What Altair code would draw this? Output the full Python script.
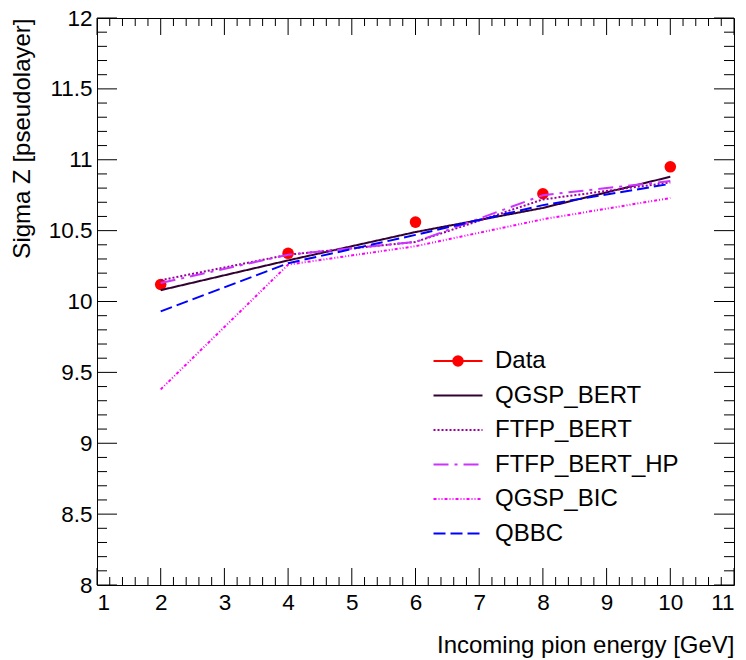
import altair as alt
import pandas as pd

# Beam energies and the measured / simulated shower width
energy = [2, 4, 6, 8, 10]
data_sigma = [10.12, 10.34, 10.56, 10.76, 10.95]
qgsp_bert = [10.08, 10.29, 10.49, 10.66, 10.88]
ftfp_bert = [10.15, 10.33, 10.42, 10.72, 10.84]
ftfp_bert_hp = [10.13, 10.33, 10.42, 10.75, 10.85]
qgsp_bic = [9.38, 10.26, 10.39, 10.58, 10.73]
qbbc = [9.93, 10.27, 10.47, 10.68, 10.83]

models = ["Data", "QGSP_BERT", "FTFP_BERT", "FTFP_BERT_HP", "QGSP_BIC", "QBBC"]
colors = ["#ff0000", "#330033", "#990099", "#cc33ff", "#ff00ff", "#0000ff"]
dashes = [[1, 0], [1, 0], [2, 2], [15, 6, 3, 6], [3, 2, 1, 2, 1, 2], [12, 5]]

# Axis tick positions
x_major = list(range(1, 12))
x_minor = [round(1 + 0.2 * i, 1) for i in range(51) if i % 5]
y_major = [8 + 0.5 * i for i in range(9)]
y_minor = [round(8 + 0.1 * i, 1) for i in range(41) if i % 5]

W, H = 637, 567
FONT = "Liberation Sans"
TICK_FS = 22.5
TEXT_FS = 24

sim = {
    "QGSP_BERT": qgsp_bert,
    "FTFP_BERT": ftfp_bert,
    "FTFP_BERT_HP": ftfp_bert_hp,
    "QGSP_BIC": qgsp_bic,
    "QBBC": qbbc,
}
lines_df = pd.DataFrame(
    [{"model": m, "energy": e, "sigma": s} for m, vals in sim.items() for e, s in zip(energy, vals)]
)
data_df = pd.DataFrame({"model": "Data", "energy": energy, "sigma": data_sigma})

x_scale = alt.Scale(domain=[1, 11], nice=False, zero=False)
y_scale = alt.Scale(domain=[8, 12], nice=False, zero=False)

x_axis = alt.Axis(
    values=x_major, format="d", ticks=False, domain=False, grid=False,
    labelFontSize=TICK_FS, labelPadding=6, labelColor="black",
    title="Incoming pion energy [GeV]", titleFontSize=TEXT_FS, titleFontWeight="normal",
    titleAnchor="end", titleAlign="right", titleX=W, titleY=67,
    titleBaseline="alphabetic", titleColor="black",
)
y_axis = alt.Axis(
    values=y_major, format="~g", ticks=False, domain=False, grid=False,
    labelFontSize=TICK_FS, labelPadding=5, labelColor="black",
    title="Sigma Z [pseudolayer]", titleFontSize=TEXT_FS, titleFontWeight="normal",
    titleAngle=270, titleAlign="right", titleX=-68, titleY=0,
    titleBaseline="alphabetic", titleColor="black",
)

LEG_X, LEG_Y = 349, 331

legend_common = dict(
    orient="none", legendX=LEG_X, legendY=LEG_Y, title=None, padding=0,
    symbolType="M-5,0H5", symbolSize=96, symbolStrokeWidth=2,
    labelOffset=25, labelFontSize=TEXT_FS, labelFont=FONT, labelColor="black",
    rowPadding=10.5, labelLimit=300,
)

points = alt.Chart(data_df).mark_point(filled=True, opacity=1, color="#ff0000", size=133).encode(
    x=alt.X("energy:Q", scale=x_scale, axis=x_axis),
    y=alt.Y("sigma:Q", scale=y_scale, axis=y_axis),
    shape=alt.Shape(
        "model:N",
        scale=alt.Scale(domain=["Data"], range=["circle"]),
        legend=alt.Legend(
            orient="none", legendX=LEG_X, legendY=LEG_Y, title=None,
            padding=0, labelExpr="''", labelFontSize=TEXT_FS, symbolSize=133,
            symbolFillColor="#ff0000", symbolStrokeColor="#ff0000", symbolStrokeWidth=0,
        ),
    ),
)

lines = alt.Chart(lines_df).mark_line(strokeWidth=2, clip=True).encode(
    x=alt.X("energy:Q", scale=x_scale),
    y=alt.Y("sigma:Q", scale=y_scale),
    color=alt.Color(
        "model:N",
        scale=alt.Scale(domain=models, range=colors),
        legend=alt.Legend(**legend_common),
    ),
    strokeDash=alt.StrokeDash(
        "model:N",
        scale=alt.Scale(domain=models, range=dashes),
        legend=alt.Legend(**legend_common),
    ),
)


def x_ticks(values, length):
    df = pd.DataFrame({"v": values})
    base = alt.Chart(df).mark_rule(color="black", strokeWidth=1)
    bottom = base.encode(x=alt.X("v:Q", scale=x_scale), y=alt.value(H), y2=alt.value(H - length))
    top = base.encode(x=alt.X("v:Q", scale=x_scale), y=alt.value(0), y2=alt.value(length))
    return [bottom, top]


def y_ticks(values, length):
    df = pd.DataFrame({"v": values})
    base = alt.Chart(df).mark_rule(color="black", strokeWidth=1)
    left = base.encode(y=alt.Y("v:Q", scale=y_scale), x=alt.value(0), x2=alt.value(length))
    right = base.encode(y=alt.Y("v:Q", scale=y_scale), x=alt.value(W), x2=alt.value(W - length))
    return [left, right]


ticks = x_ticks(x_major, 17) + x_ticks(x_minor, 8) + y_ticks(y_major, 20) + y_ticks(y_minor, 10)

chart = (
    alt.layer(points, lines, *ticks)
    .resolve_scale(color="shared")
    .properties(
        width=W, height=H,
        autosize=alt.AutoSizeParams(type="none"),
        padding={"left": 97, "top": 18, "right": 12, "bottom": 75},
    )
    .configure(font=FONT)
    .configure_view(stroke="black", strokeWidth=1)
    .configure_axis(labelFont=FONT, titleFont=FONT)
    .configure_legend(labelFont=FONT)
)

chart.save("out.html", embed_options={"renderer": "svg", "actions": False})
